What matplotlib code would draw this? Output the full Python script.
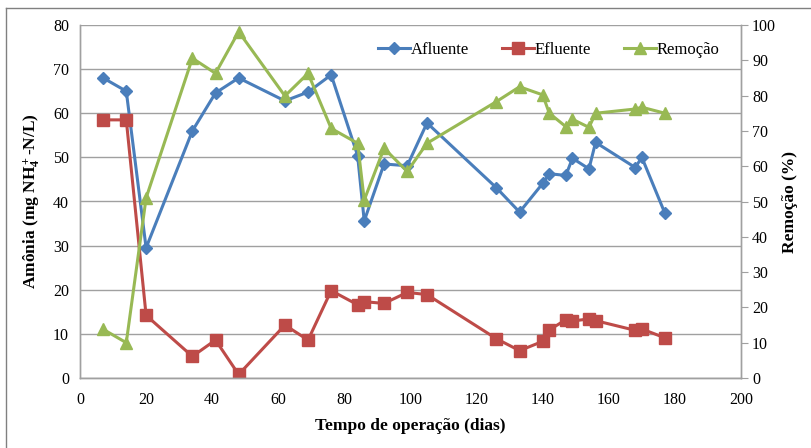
import matplotlib
matplotlib.use("Agg")
import matplotlib.pyplot as plt
from matplotlib.lines import Line2D

plt.rcParams['font.family'] = ['Liberation Serif', 'DejaVu Serif']
plt.rcParams['mathtext.fontset'] = 'custom'
plt.rcParams['mathtext.rm'] = 'Liberation Serif:bold'
plt.rcParams['mathtext.it'] = 'Liberation Serif:bold'
plt.rcParams['mathtext.bf'] = 'Liberation Serif:bold'

# Operation time (days)
dias = [7, 14, 20, 34, 41, 48, 62, 69, 76, 84, 86, 92, 99, 105,
        126, 133, 140, 142, 147, 149, 154, 156, 168, 170, 177]

# Ammonia in the influent (mg NH4+-N/L)
afluente = [68.0, 65.0, 29.5, 56.0, 64.6, 68.0, 62.8, 64.8, 68.7, 50.4, 35.6,
            48.5, 48.1, 57.8, 43.1, 37.6, 44.1, 46.3, 45.9, 49.8, 47.4, 53.4,
            47.7, 50.0, 37.3]

# Ammonia in the effluent (mg NH4+-N/L)
efluente = [58.5, 58.5, 14.2, 4.9, 8.6, 0.8, 12.0, 8.6, 19.8, 16.6, 17.3,
            16.9, 19.4, 18.9, 8.9, 6.2, 8.3, 10.9, 13.2, 12.9, 13.4, 13.0,
            10.8, 11.1, 9.1]

# Removal efficiency (%)
remocao = [13.8, 10.0, 51.0, 90.6, 86.3, 98.1, 79.9, 86.3, 70.7, 66.5, 50.4,
           65.1, 58.5, 66.5, 78.3, 82.5, 80.2, 75.0, 71.2, 73.3, 71.0, 75.0,
           76.2, 76.7, 75.0]

x_ticks = list(range(0, 201, 20))
y_left_ticks = list(range(0, 81, 10))
y_right_ticks = list(range(0, 101, 10))

c_afl = '#4A7EBB'
c_efl = '#BE4B48'
c_rem = '#98B954'
grid_c = '#A0A0A0'

fig = plt.figure(figsize=(8.11, 4.48), dpi=100)
ax = fig.add_axes([80 / 811, 1 - 378 / 448, (741 - 80) / 811, (378 - 25) / 448])
ax2 = ax.twinx()

l1, = ax.plot(dias, afluente, color=c_afl, lw=2.2, marker='D', ms=6,
              label='Afluente')
l2, = ax.plot(dias, efluente, color=c_efl, lw=2.2, marker='s', ms=8.5,
              label='Efluente')
l3, = ax2.plot(dias, remocao, color=c_rem, lw=2.2, marker='^', ms=9,
               label='Remoção')

ax.set_xlim(0, 200)
ax.set_ylim(0, 80)
ax2.set_ylim(0, 100)
ax.set_xticks(x_ticks)
ax.set_yticks(y_left_ticks)
ax2.set_yticks(y_right_ticks)

ax.yaxis.grid(True, color=grid_c, lw=1.0)
ax.set_axisbelow(True)

for a in (ax, ax2):
    a.spines['top'].set_visible(False)
    for s in ('left', 'bottom', 'right'):
        a.spines[s].set_color(grid_c)
        a.spines[s].set_linewidth(1.0)

ax.tick_params(axis='x', length=0, pad=10, labelsize=11.5)
ax.tick_params(axis='y', length=0, pad=8, labelsize=11.5)
ax2.tick_params(axis='y', direction='out', length=5, color=grid_c,
                pad=3, labelsize=11.5)

ax.set_xlabel('Tempo de operação (dias)', fontsize=12.5, fontweight='bold',
              labelpad=7)
ax.set_ylabel('Amônia (mg NH$_4^+$-N/L)', fontsize=12.5, fontweight='bold',
              labelpad=8)
ax2.set_ylabel('Remoção (%)', fontsize=12.5, fontweight='bold', labelpad=4)

ax.legend(handles=[l1, l2, l3], loc='center', ncol=3, frameon=False,
          bbox_to_anchor=(549 / 811, 1 - 50 / 448),
          bbox_transform=fig.transFigure, fontsize=12, handlelength=1.9,
          handletextpad=0.05, columnspacing=2.0)

# outer chart frame
fig.add_artist(Line2D([6 / 811, 6 / 811], [0, 1 - 8 / 448],
                      transform=fig.transFigure, color='#808080', lw=1))
fig.add_artist(Line2D([6 / 811, 1], [1 - 8 / 448, 1 - 8 / 448],
                      transform=fig.transFigure, color='#808080', lw=1))

fig.savefig('out.png', dpi=100)
